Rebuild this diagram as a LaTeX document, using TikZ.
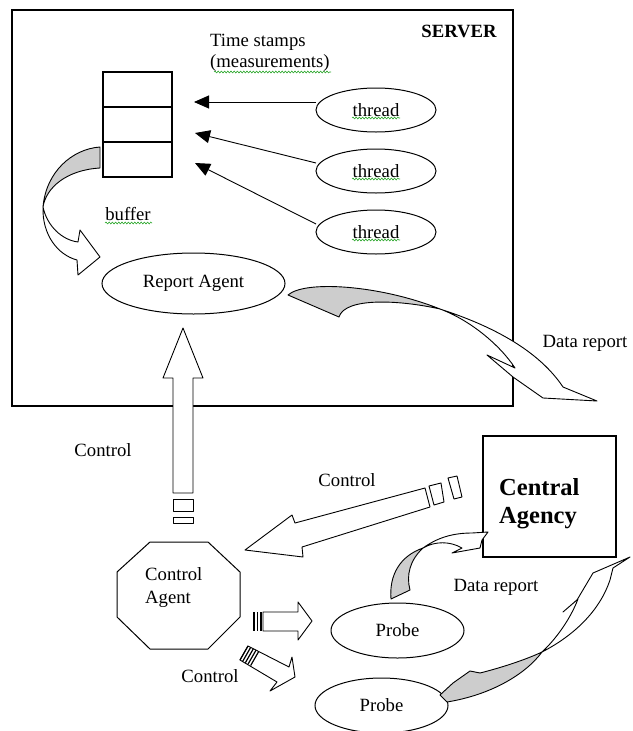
\documentclass[tikz,border=0pt]{standalone}
\usepackage{fontspec}
\setmainfont{Liberation Serif}
\usetikzlibrary{shapes,positioning,arrows.meta,decorations.pathmorphing}
\definecolor{spellgreen}{RGB}{40,165,40}
\definecolor{shadegray}{RGB}{205,205,205}

\begin{document}
\begin{tikzpicture}[x=1pt,y=-1pt,%
		   font=\fontsize{18.7}{21}\selectfont,
		   srvname/.style={font=\bfseries\fontsize{18.7}{21}\selectfont},
		   agency/.style={font=\bfseries\fontsize{24.5}{28}\selectfont,align=left,anchor=west,inner sep=0pt},
		   box/.style={draw,line width=1.2pt,inner sep=0pt,outer sep=0pt},
		   cell/.style={draw,line width=1.2pt,minimum width=69pt,minimum height=35pt,inner sep=0pt,outer sep=0pt},
		   oval/.style={draw,shape=ellipse,line width=1pt,inner sep=0pt,outer sep=0pt},
		   feed/.style={-{Triangle[length=15pt,width=13pt]},line width=0.9pt},
		   fatarrow/.style={draw,fill=white,line width=0.9pt,line join=round},
		   backside/.style={draw,fill=shadegray,line width=0.9pt,line join=round},
		   spell/.style={spellgreen,line width=0.6pt,decorate,decoration={snake,amplitude=0.9pt,segment length=3.2pt}}]

	\useasboundingbox (0,0) rectangle (632,731);

	% server side
	\node[box,minimum width=501pt,minimum height=396pt] (server) at (262.5,208) {};
	\node[srvname] (srvname) at (459,31) {SERVER};
	\node[align=left,anchor=west,inner sep=0pt] (stamps) at (210,52.5) {Time stamps\\(measurements)};
	\draw[spell] (214,72) -- (331,72);

	\foreach \i in {1,2,3} {
		\ifnum\i=1 \node[cell] (buf-\i) at (137.5,89.5) {};
		\else\node[cell,below=0pt of buf-\z] (buf-\i) {};
		\fi
		\global\let\z=\i
	}
	\node (buflabel) at (128,214) {buffer};
	\draw[spell] (105,223) -- (152,223);

	\coordinate (in-1) at (194,102);
	\coordinate (in-2) at (195,133);
	\coordinate (in-3) at (195,163);
	\foreach \y in {1,2,3} {
		\ifnum\y=1 \node[oval,minimum width=120pt,minimum height=44pt] (thread-\y) at (376,110) {thread};
		\else\node[oval,minimum width=120pt,minimum height=44pt,below=17pt of thread-\z] (thread-\y) {thread};
		\fi
		\draw[spell] ([xshift=-24pt,yshift=-8pt]thread-\y.center) -- ++(48,0);
		\draw[feed] ([yshift=8pt]thread-\y.west) -- (in-\y);
		\global\let\z=\y
	}

	\node[oval,minimum width=183pt,minimum height=61pt] (report) at (193.5,283.5) {Report Agent};

	% buffer -> report agent
	\draw[backside] (100,147) .. controls (72,149) and (46,172) .. (43,207) .. controls (46,188) and (66,170) .. (100,168) -- cycle;
	\draw[fatarrow] (43,207) .. controls (47,226) and (62,240) .. (78,242) -- (80,230) -- (100,257) -- (78,275) -- (77,260) .. controls (58,255) and (42,235) .. (43,207) -- cycle;

	% report agent -> data report
	\draw[backside] (288,295) .. controls (305,280) and (380,285) .. (440,309) .. controls (400,300) and (345,297) .. (339,317) -- cycle;
	\draw[fatarrow] (440,309) .. controls (480,322) and (535,345) .. (563,387) -- (597,401) -- (543,398) -- (513,377) -- (487,355) -- (515,368) .. controls (500,345) and (470,320) .. (440,309) -- cycle;
	\node (srvreport) at (585,343) {Data report};

	% control agent -> report agent
	\draw[fatarrow] (183,328) -- (203,378) -- (193,378) -- (193,493) -- (173,493) -- (173,378) -- (163,378) -- cycle;
	\draw[fatarrow] (173,499) rectangle (193,511);
	\draw[fatarrow] (173,517) rectangle (193,523);
	\node (ctl-up) at (103,450) {Control};

	% central agency
	\node[box,minimum width=133pt,minimum height=121pt] (central) at (549.5,496.5) {};
	\node[agency] (agencyname) at (499,504) {Central\\Agency};

	\draw[fatarrow] (425,488) -- (295,523) -- (292,515) -- (245,550) -- (303,557) -- (302,547) -- (430,507) -- cycle;
	\draw[fatarrow] (429,486) -- (441,483) -- (444,502) -- (434,505) -- cycle;
	\draw[fatarrow] (448,478) -- (457,476) -- (462,497) -- (454,499) -- cycle;
	\node (ctl-mid) at (347,480) {Control};

	% control agent
	\draw[line width=1pt] (150,542) -- (208,542) -- (240,572) -- (240,617) -- (208,649) -- (150,649) -- (117,617) -- (117,572) -- cycle;
	\node[align=left,anchor=west,inner sep=0pt,font=\fontsize{18.7}{23}\selectfont] (ctrl) at (145,588) {Control\\Agent};

	\node[oval,minimum width=133pt,minimum height=55pt] (probe-1) at (397.5,630.5) {Probe};
	\node[oval,minimum width=133pt,minimum height=55pt] (probe-2) at (381.5,705.5) {Probe};

	\draw[fatarrow] (263,612) -- (298,612) -- (298,602) -- (312,621) -- (298,640) -- (298,631) -- (263,631) -- cycle;
	\foreach \x in {254,257.5,261}
		\draw[line width=1.8pt] (\x,612) -- (\x,631);

	\draw[fatarrow] (248,646) -- (289,667) -- (292,657) -- (295,677) -- (270,691) -- (277,682) -- (240,660) -- cycle;
	\foreach \t in {0,3,6,9,12}
		\draw[line width=1.2pt] ([shift={(\t*0.89,\t*0.46)}]248,646) -- ([shift={(\t*0.89,\t*0.46)}]240,660);
	\node (ctl-low) at (210,676) {Control};

	% probes -> central agency
	\draw[backside] (391,599) .. controls (389,575) and (400,556) .. (423,548) .. controls (410,560) and (406,575) .. (410,590) -- cycle;
	\draw[fatarrow] (423,548) .. controls (437,538) and (452,533) .. (472,533) -- (488,532) -- (482,540) -- (480,548) -- (452,553) -- (462,548) .. controls (450,541) and (435,541) .. (423,548) -- cycle;
	\node (probereport) at (496,587) {Data report};

	\draw[backside] (440,695) -- (453,683) -- (470,671) -- (480,673) .. controls (500,668) and (525,660) .. (542,652) .. controls (525,675) and (490,695) .. (447,702) -- cycle;
	\draw[fatarrow] (542,652) .. controls (575,635) and (600,610) .. (610,580) -- (613,568) -- (630,557) -- (593,573) -- (577,600) -- (563,612) -- (578,599) .. controls (570,620) and (555,640) .. (542,652) -- cycle;
\end{tikzpicture}
\end{document}
